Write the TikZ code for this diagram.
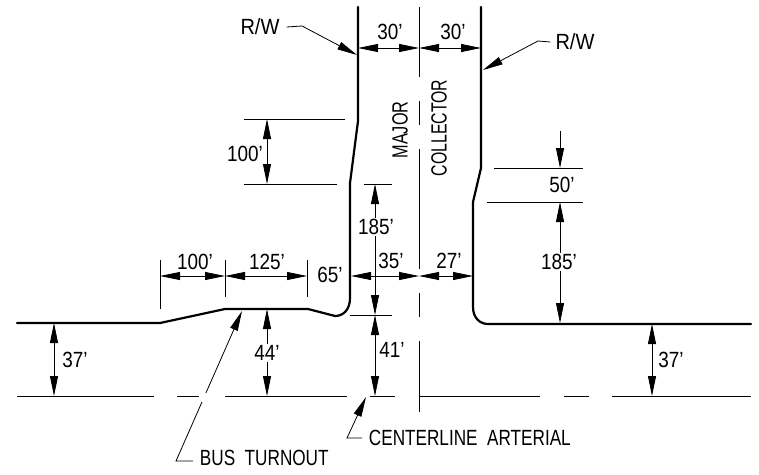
\documentclass[tikz,border=0pt]{standalone}
\usepackage{fontspec}
\setmainfont{Liberation Sans}
\usetikzlibrary{arrows.meta,positioning}

\begin{document}
\begin{tikzpicture}[
	x = 1pt,
	y = -1pt,
	> = {Triangle[length=20pt,width=8pt]}, % arrow head style
	W/.style={line width=2.2pt, line join=round, line cap=round}, % road edge
	C/.style={line width=.8pt}, % thin lines
	D/.style={line width=.8pt}, % dimension lines
	T/.style={font=\fontsize{22}{22}\selectfont, inner sep=1pt}, % text
	L/.style={T, xscale=.78, transform shape}, % words
	N/.style={T, xscale=.86, transform shape}, % dimensions
	B/.style={N, fill=white}, % dimension that breaks its line
	]

	% Road edges
	\draw[W] (358,7) -- (358,121) -- (350,183) -- (350,298) .. controls (350,310) and (343,316) .. (335,316) -- (308,309) -- (225,309) -- (160,323) -- (17,323);
	\draw[W] (481,7) -- (481,168) -- (473,202) -- (473,307) .. controls (473,318) and (480,324) .. (488,324) -- (751,324);

	% Centerlines
	\foreach \a/\b in {7/77, 101/125, 149/269, 293/317, 341/412}
		\draw[C] (419,\a) -- (419,\b);
	\foreach \a/\b in {17/154, 177/202, 225/347, 370/395, 419/540, 564/589, 612/751}
		\draw[C] (\a,396) -- (\b,396);

	% Extension lines
	\draw[C] (244,119) -- (345,119);
	\draw[C] (244,184) -- (337,184);
	\draw[C] (364,184) -- (392,184);
	\draw[C] (350,315) -- (392,315);
	\draw[C] (494,168) -- (583,168);
	\draw[C] (487,202) -- (583,202);
	\draw[C] (160,260) -- (160,309);
	\draw[C] (225,260) -- (225,297);
	\draw[C] (307,260) -- (307,297);

	% End points of the dimension lines
	\coordinate (wl) at (358,48);
	\coordinate (cl) at (419,48);
	\coordinate (wr) at (481,48);
	\coordinate (t100) at (267,119);
	\coordinate (b100) at (267,184);
	\coordinate (t185) at (375,184);
	\coordinate (b185) at (375,315);
	\coordinate (b41) at (375,396);
	\coordinate (t44) at (267,309);
	\coordinate (b44) at (267,396);
	\coordinate (tl37) at (54,323);
	\coordinate (bl37) at (54,396);
	\coordinate (tr37) at (652,324);
	\coordinate (br37) at (652,396);
	\coordinate (a) at (160,276);
	\coordinate (b) at (225,276);
	\coordinate (c) at (307,276);
	\coordinate (m1) at (351,276);
	\coordinate (m2) at (419,276);
	\coordinate (m3) at (473,276);
	\coordinate (top50) at (560,131);
	\coordinate (t50) at (560,168);
	\coordinate (t185r) at (560,202);
	\coordinate (b185r) at (560,323);

	% Paths connecting them
	\path[D,<->] (wl) edge (cl);
	\path[D,<->] (cl) edge (wr);
	\path[D,<->] (t100) edge (b100);
	\path[D,<->] (t185) edge (b185);
	\path[D,<->] (b185) edge (b41);
	\path[D,<->] (t44) edge (b44);
	\path[D,<->] (tl37) edge (bl37);
	\path[D,<->] (tr37) edge (br37);
	\path[D,<->] (a) edge (b);
	\path[D,<->] (b) edge (c);
	\path[D,<->] (m1) edge (m2);
	\path[D,<->] (m2) edge (m3);
	\path[D,->] (top50) edge (t50);
	\path[D,<->] (t185r) edge (b185r);

	% Dimension labels
	\node[N] (n30l) at (390,32) {30'};
	\node[N] (n30r) at (453,32) {30'};
	\node[N] (n100) at (245,154) {100'};
	\node[B] (n185) at (376,227) {185'};
	\node[B] (n185r) at (559,262) {185'};
	\node[N] (n50) at (562,185) {50'};
	\node[N] (n100b) at (195,262) {100'};
	\node[N] (n125) at (267,262) {125'};
	\node[N] (n65) at (330,275) {65'};
	\node[N] (n35) at (391,261) {35'};
	\node[N] (n27) at (449,261) {27'};
	\node[N] (n41) at (392,350) {41'};
	\node[B] (n44) at (267,353) {44'};
	\node[N] (n37l) at (75,360) {37'};
	\node[N] (n37r) at (671,360) {37'};

	% Street name
	\node[T, rotate=90, xscale=.74, transform shape] (major) at (400,130) {MAJOR};
	\node[T, rotate=90, xscale=.72, transform shape] (coll) at (439,128) {COLLECTOR};

	% Leaders
	\node[N, xscale=1.06] (rwl) at (260,27) {R/W};
	\node[N, xscale=1.06] (rwr) at (575,42) {R/W};
	\node[L, anchor=west] (bus) at (199,458) {BUS\ \ TURNOUT};
	\node[L, anchor=west] (art) at (368,438) {CENTERLINE\ \ ARTERIAL};

	\coordinate (rwlk) at (302,26);
	\coordinate (rwlt) at (357,55);
	\coordinate (rwrk) at (538,41);
	\coordinate (rwrt) at (483,70);
	\coordinate (busk) at (176,461);
	\coordinate (bust) at (242,311);
	\coordinate (artk) at (347,438);
	\coordinate (artt) at (366,397);

	\draw[D,->] (rwl.east) ++(6,0) -- (rwlk) -- (rwlt);
	\draw[D,->] (rwr.west) ++(-4,0) -- (rwrk) -- (rwrt);
	\draw[D,->] (bus.west) ++(-6,3) -- (busk) -- (bust);
	\draw[D,->] (art.west) ++(-6,0) -- (artk) -- (artt);

	% gap in the leader where it crosses the centerline
	\fill[white] (199,393) rectangle (209,402);

	\useasboundingbox (0,0) rectangle (759,474);
\end{tikzpicture}
\end{document}
